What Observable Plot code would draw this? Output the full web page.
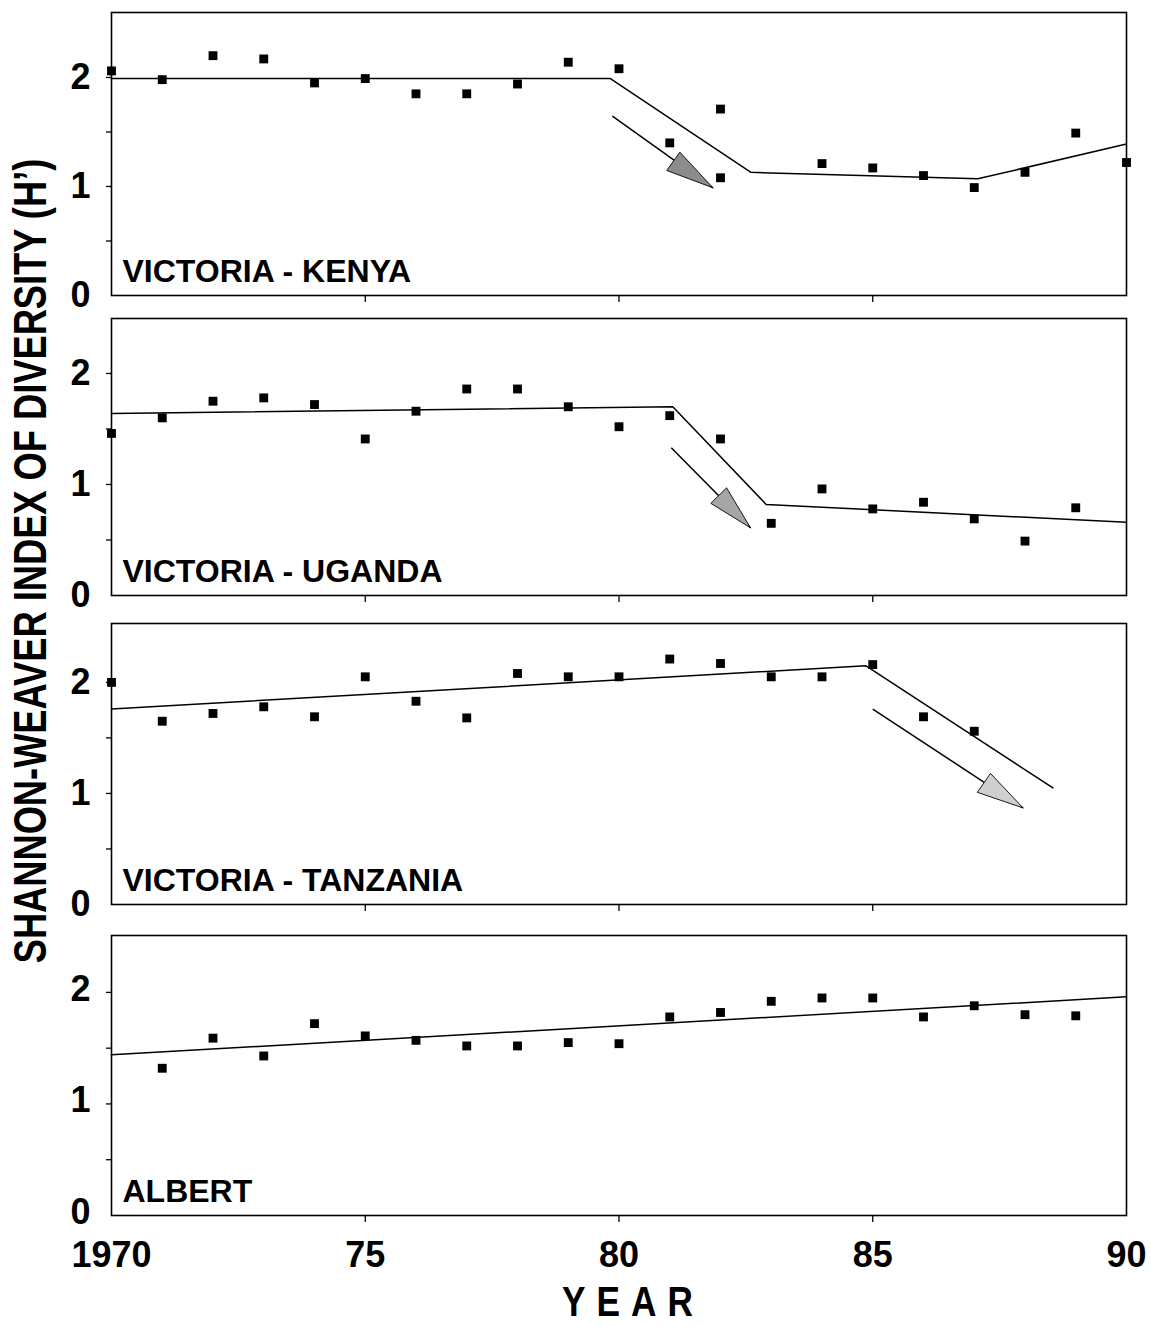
<!DOCTYPE html>
<html>
<head>
<meta charset="utf-8">
<script src="https://cdn.jsdelivr.net/npm/d3@7"></script>
<script src="https://cdn.jsdelivr.net/npm/@observablehq/plot@0.6"></script>
<style>
  body { margin: 0; background: #fff; }
  #chart { position: relative; width: 1151px; height: 1326px; overflow: hidden; background: #fff;
           font-family: "Liberation Sans", Arial, sans-serif; }
  #chart svg.panel { position: absolute; left: 0; overflow: visible; }
  #chart svg.overlay { position: absolute; left: 0; top: 0; pointer-events: none; }
</style>
</head>
<body>
<div id="chart"></div>
<script>
// ---------------- DATA ----------------
const panelNames = ["VICTORIA - KENYA", "VICTORIA - UGANDA", "VICTORIA - TANZANIA", "ALBERT"];

const kenyaYears  = [1970,1971,1972,1973,1974,1975,1976,1977,1978,1979,1980,1981,1982,1982,1984,1985,1986,1987,1988,1989,1990];
const kenyaValues = [2.06,1.98,2.20,2.17,1.95,1.99,1.85,1.85,1.94,2.14,2.08,1.40,1.71,1.08,1.21,1.17,1.10,0.99,1.13,1.49,1.22];

const ugandaYears  = [1970,1971,1972,1973,1974,1975,1976,1977,1978,1979,1980,1981,1982,1983,1984,1985,1986,1987,1988,1989];
const ugandaValues = [1.46,1.60,1.75,1.78,1.72,1.41,1.66,1.86,1.86,1.70,1.52,1.62,1.41,0.65,0.96,0.78,0.84,0.69,0.49,0.79];

const tanzaniaYears  = [1970,1971,1972,1973,1974,1975,1976,1977,1978,1979,1980,1981,1982,1983,1984,1985,1986,1987];
const tanzaniaValues = [2.00,1.65,1.72,1.78,1.69,2.05,1.83,1.68,2.08,2.05,2.05,2.21,2.17,2.05,2.05,2.16,1.69,1.56];

const albertYears  = [1971,1972,1973,1974,1975,1976,1977,1978,1979,1980,1981,1982,1983,1984,1985,1986,1987,1988,1989];
const albertValues = [1.32,1.59,1.43,1.72,1.61,1.57,1.52,1.52,1.55,1.54,1.78,1.82,1.92,1.95,1.95,1.78,1.88,1.80,1.79];

// fitted trend lines (vertices)
const kenyaTrendYears     = [1970, 1979.83, 1982.6, 1987.07, 1990];
const kenyaTrendValues    = [1.99, 1.99, 1.13, 1.07, 1.39];
const ugandaTrendYears    = [1970, 1981.06, 1982.9, 1990];
const ugandaTrendValues   = [1.64, 1.70, 0.82, 0.66];
const tanzaniaTrendYears  = [1970, 1984.86, 1988.55];
const tanzaniaTrendValues = [1.76, 2.15, 1.05];
const albertTrendYears    = [1970, 1990];
const albertTrendValues   = [1.44, 1.96];

// decline arrows: shaft start, tip, and the two back corners of the head (year, value)
const arrowStartYears  = [1979.87, 1981.03, 1985.0];
const arrowStartValues = [1.645, 1.33, 1.76];
const arrowTipYears    = [1981.85, 1982.59, 1987.96];
const arrowTipValues   = [0.988, 0.61, 0.87];
const headCornerAYears  = [1981.20, 1982.12, 1987.32];
const headCornerAValues = [1.315, 0.97, 1.18];
const headCornerBYears  = [1980.94, 1981.81, 1987.06];
const headCornerBValues = [1.147, 0.83, 1.01];

// axes
const yLabelTicks = [0, 1, 2];
const yMinorTicks = [0.5, 1, 1.5, 2];
const xInnerTicks = [1975, 1980, 1985];
const xLabelYears = [1970, 1975, 1980, 1985, 1990];
const xTickLabels = ["1970", "75", "80", "85", "90"];
const yTitle = "SHANNON-WEAVER INDEX OF DIVERSITY (H\u2019)";
const xTitle = "YEAR";

// ---------------- LAYOUT ----------------
const FONT = "'Liberation Sans', Arial, Helvetica, sans-serif";
const frameTops    = [12, 318, 623, 935];
const frameBottoms = [295, 595, 904, 1215];
const yMax = [2.596, 2.495, 2.53, 2.51];
const headFills = ["#8c8c8c", "#a6a6a6", "#cfcfcf"];

const pointsYears  = [kenyaYears, ugandaYears, tanzaniaYears, albertYears];
const pointsValues = [kenyaValues, ugandaValues, tanzaniaValues, albertValues];
const trendYears   = [kenyaTrendYears, ugandaTrendYears, tanzaniaTrendYears, albertTrendYears];
const trendValues  = [kenyaTrendValues, ugandaTrendValues, tanzaniaTrendValues, albertTrendValues];

const chart = document.getElementById("chart");

for (let i = 0; i < 4; i++) {
  const pts = pointsYears[i].map((yr, k) => ({year: yr, h: pointsValues[i][k]}));
  const trend = trendYears[i].map((yr, k) => ({year: yr, h: trendValues[i][k]}));
  const mt = 6;
  const mb = i === 3 ? 60 : 14;
  const innerH = frameBottoms[i] - frameTops[i];

  const marks = [
    Plot.frame({stroke: "black", strokeWidth: 1.6}),
    Plot.axisY({ticks: yMinorTicks, tickSize: 5, tickFormat: () => "", label: null, strokeWidth: 1.3}),
    Plot.axisY({ticks: yLabelTicks, tickSize: 0, tickPadding: 21, label: null, dy: i === 3 ? -3 : 0,
                tickFormat: d => String(d), fontSize: 36, fontWeight: "bold"}),
    Plot.axisX({ticks: xInnerTicks, tickSize: 7, tickFormat: () => "", label: null, strokeWidth: 1.3}),
    Plot.line(trend, {x: "year", y: "h", stroke: "black", strokeWidth: 1.5})
  ];
  if (i === 3) {
    marks.push(Plot.axisX({
      ticks: xLabelYears, tickSize: 0, tickPadding: 26, label: null,
      tickFormat: d => xTickLabels[xLabelYears.indexOf(d)], fontSize: 36, fontWeight: "bold"
    }));
  }
  if (i < 3) {
    const shaft = [{x1: arrowStartYears[i], y1: arrowStartValues[i], x2: arrowTipYears[i], y2: arrowTipValues[i]}];
    const head = [
      {year: arrowTipYears[i], h: arrowTipValues[i]},
      {year: headCornerAYears[i], h: headCornerAValues[i]},
      {year: headCornerBYears[i], h: headCornerBValues[i]},
      {year: arrowTipYears[i], h: arrowTipValues[i]}
    ];
    marks.push(Plot.link(shaft, {x1: "x1", y1: "y1", x2: "x2", y2: "y2", stroke: "black", strokeWidth: 1.5}));
    marks.push(Plot.line(head, {x: "year", y: "h", fill: headFills[i], stroke: "black", strokeWidth: 0.9}));
  }
  marks.push(Plot.dot(pts, {x: "year", y: "h", symbol: "square", r: 5, fill: "black", stroke: "none"}));
  marks.push(Plot.text([panelNames[i]], {
    text: d => d, frameAnchor: "bottom-left", dx: 11, dy: -14,
    textAnchor: "start", lineAnchor: "bottom", fontSize: 32, fontWeight: "bold", fill: "black"
  }));

  const svg = Plot.plot({
    width: 1151,
    height: innerH + mt + mb,
    marginLeft: 111, marginRight: 25, marginTop: mt, marginBottom: mb,
    style: {fontFamily: FONT, fontWeight: "bold", fontSize: "36px", background: "transparent", color: "black", overflow: "visible"},
    x: {domain: [1970, 1990]},
    y: {domain: [0, yMax[i]]},
    marks
  });
  svg.classList.add("panel");
  svg.style.top = (frameTops[i] - mt) + "px";
  chart.appendChild(svg);
}

// axis titles (condensed heavy type, scaled to the reference's extent)
const ns = "http://www.w3.org/2000/svg";
const ov = document.createElementNS(ns, "svg");
ov.setAttribute("class", "overlay");
ov.setAttribute("width", 1151);
ov.setAttribute("height", 1326);
chart.appendChild(ov);

const yt = document.createElementNS(ns, "text");
yt.setAttribute("text-anchor", "middle");
yt.setAttribute("font-family", FONT);
yt.setAttribute("font-weight", "bold");
yt.setAttribute("font-size", "46");
yt.textContent = yTitle;
ov.appendChild(yt);
const natural = yt.getComputedTextLength() || 1200;
const sx = 805 / natural;
yt.setAttribute("transform", `translate(46,561) rotate(-90) scale(${sx},1)`);

const xt = document.createElementNS(ns, "text");
xt.setAttribute("transform", "translate(562,1316) scale(0.82,1)");
xt.setAttribute("font-family", FONT);
xt.setAttribute("font-weight", "bold");
xt.setAttribute("font-size", "43");
xt.setAttribute("letter-spacing", "13.4");
xt.textContent = xTitle;
ov.appendChild(xt);
</script>
</body>
</html>
